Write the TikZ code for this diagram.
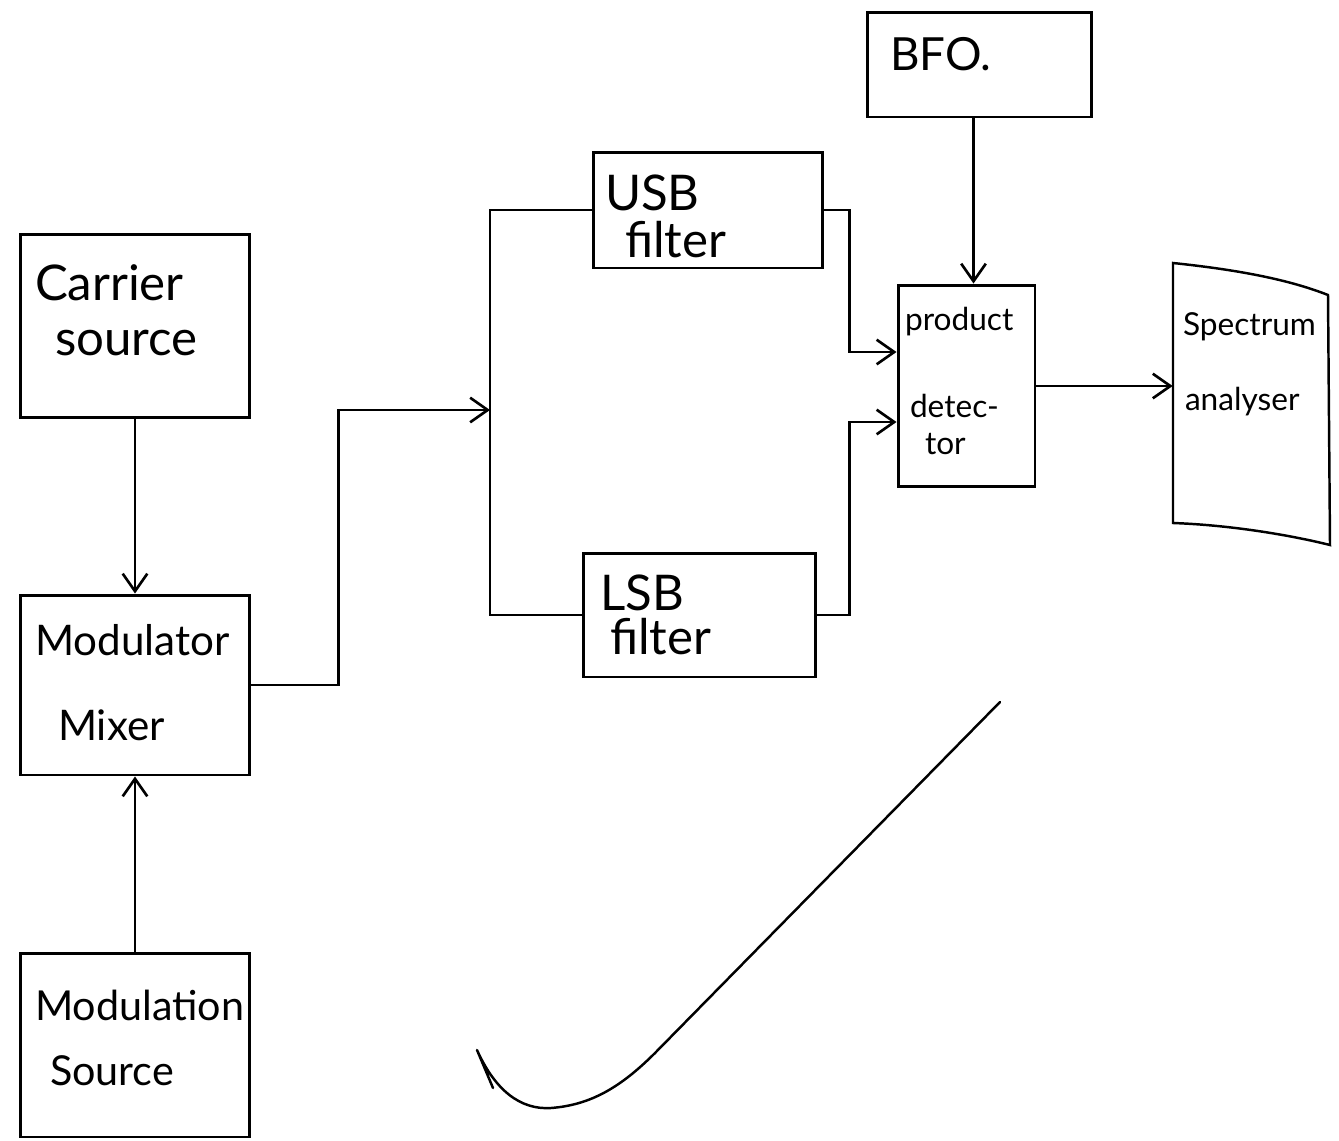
\documentclass[tikz,border=0pt]{standalone}
\usepackage{fontspec}
\setmainfont{Lato}
\usetikzlibrary{arrows.meta,calc}
\newcommand\fl[1]{\rule{0pt}{#1}}
\begin{document}
\begin{tikzpicture}[x=0.02cm,y=-0.02cm,
  blk/.style={draw, line width=1.7pt, rectangle, inner sep=0pt},
  conn/.style={line width=1.5pt},
  arr/.style={conn, -{Straight Barb[length=10pt,width=14pt,line width=1.5pt]}},
]
\useasboundingbox[fill=white] (0,0) rectangle (1339,1140);

% blocks
\node[blk] (bfo) at (979.5,64.5)
  {\parbox[c][2.1cm][t]{4.5cm}{\fontsize{26}{30}\selectfont\hspace*{0.46cm}\fl{1.16cm}BFO.}};
\node[blk] (usb) at (708,210)
  {\parbox[c][2.32cm][t]{4.6cm}{\fontsize{28}{27.3}\selectfont
   \hspace*{0.24cm}\fl{1.16cm}USB\\
   \hspace*{0.64cm}filter}};
\node[blk] (carrier) at (135,326)
  {\parbox[c][3.68cm][t]{4.6cm}{\fontsize{28}{31.3}\selectfont
   \hspace*{0.3cm}\fl{1.32cm}Carrier\\
   \hspace*{0.7cm}source}};
\node[blk] (pd) at (966.5,386)
  {\parbox[c][4.04cm][t]{2.74cm}{\fontsize{18}{21}\selectfont
   \hspace*{0.14cm}\fl{0.9cm}product\\[29pt]
   \hspace*{0.24cm}detec-\\
   \hspace*{0.54cm}tor}};
\node[inner sep=0pt] (spec) at (1251.5,404)
  {\parbox[c][5.64cm][t]{3.14cm}{\fontsize{18}{42.7}\selectfont
   \hspace*{0.2cm}\fl{1.44cm}Spectrum\\
   \hspace*{0.24cm}analyser}};
\node[blk] (lsb) at (699.5,615)
  {\parbox[c][2.48cm][t]{4.66cm}{\fontsize{28}{25.6}\selectfont
   \hspace*{0.34cm}\fl{1.14cm}LSB\\
   \hspace*{0.54cm}filter}};
\node[blk] (mod) at (135,685)
  {\parbox[c][3.6cm][t]{4.6cm}{\fontsize{24}{48.4}\selectfont
   \hspace*{0.3cm}\fl{1.2cm}Modulator\\
   \hspace*{0.76cm}Mixer}};
\node[blk] (modsrc) at (135,1045)
  {\parbox[c][3.68cm][t]{4.6cm}{\fontsize{23.5}{37}\selectfont
   \hspace*{0.3cm}\fl{1.34cm}Modulation\\
   \hspace*{0.6cm}Source}};

% spectrum analyser outline (bent at the page edge)
\draw[line width=1.4pt] (1173,263) .. controls (1240,270) and (1290,280) .. (1328,295)
   -- (1330,545) .. controls (1290,535) and (1230,525) .. (1173,523) -- cycle;

% junctions
\coordinate (split) at (490,410);
\coordinate (pdin1) at ($(pd.west)+(0,-34)$);
\coordinate (pdin2) at ($(pd.west)+(0,36)$);

% connectors
\draw[arr] (carrier.south) -- (mod.north);
\draw[arr] (modsrc.north) -- (mod.south);
\draw[arr] (mod.east) -- ++(87,0) |- (split);
\draw[conn] (usb.west) -| (split) |- (lsb.west);
\draw[arr] (usb.east) -- ++(25,0) |- (pdin1);
\draw[arr] (lsb.east) -- ++(32,0) |- (pdin2);
\draw[arr] (bfo.south) ++(-6,0) coordinate (bfoout) -- (bfoout |- pd.north);
\draw[arr] (pd.east) -- (pd.east -| spec.west);

% check mark
\draw[line width=1.4pt, line cap=round, line join=round] (493,1088) -- (477,1050)
  .. controls (495,1090) and (520,1110) .. (551,1108)
  .. controls (590,1105) and (620,1088) .. (655,1053) -- (1000,702);
\end{tikzpicture}
\end{document}
